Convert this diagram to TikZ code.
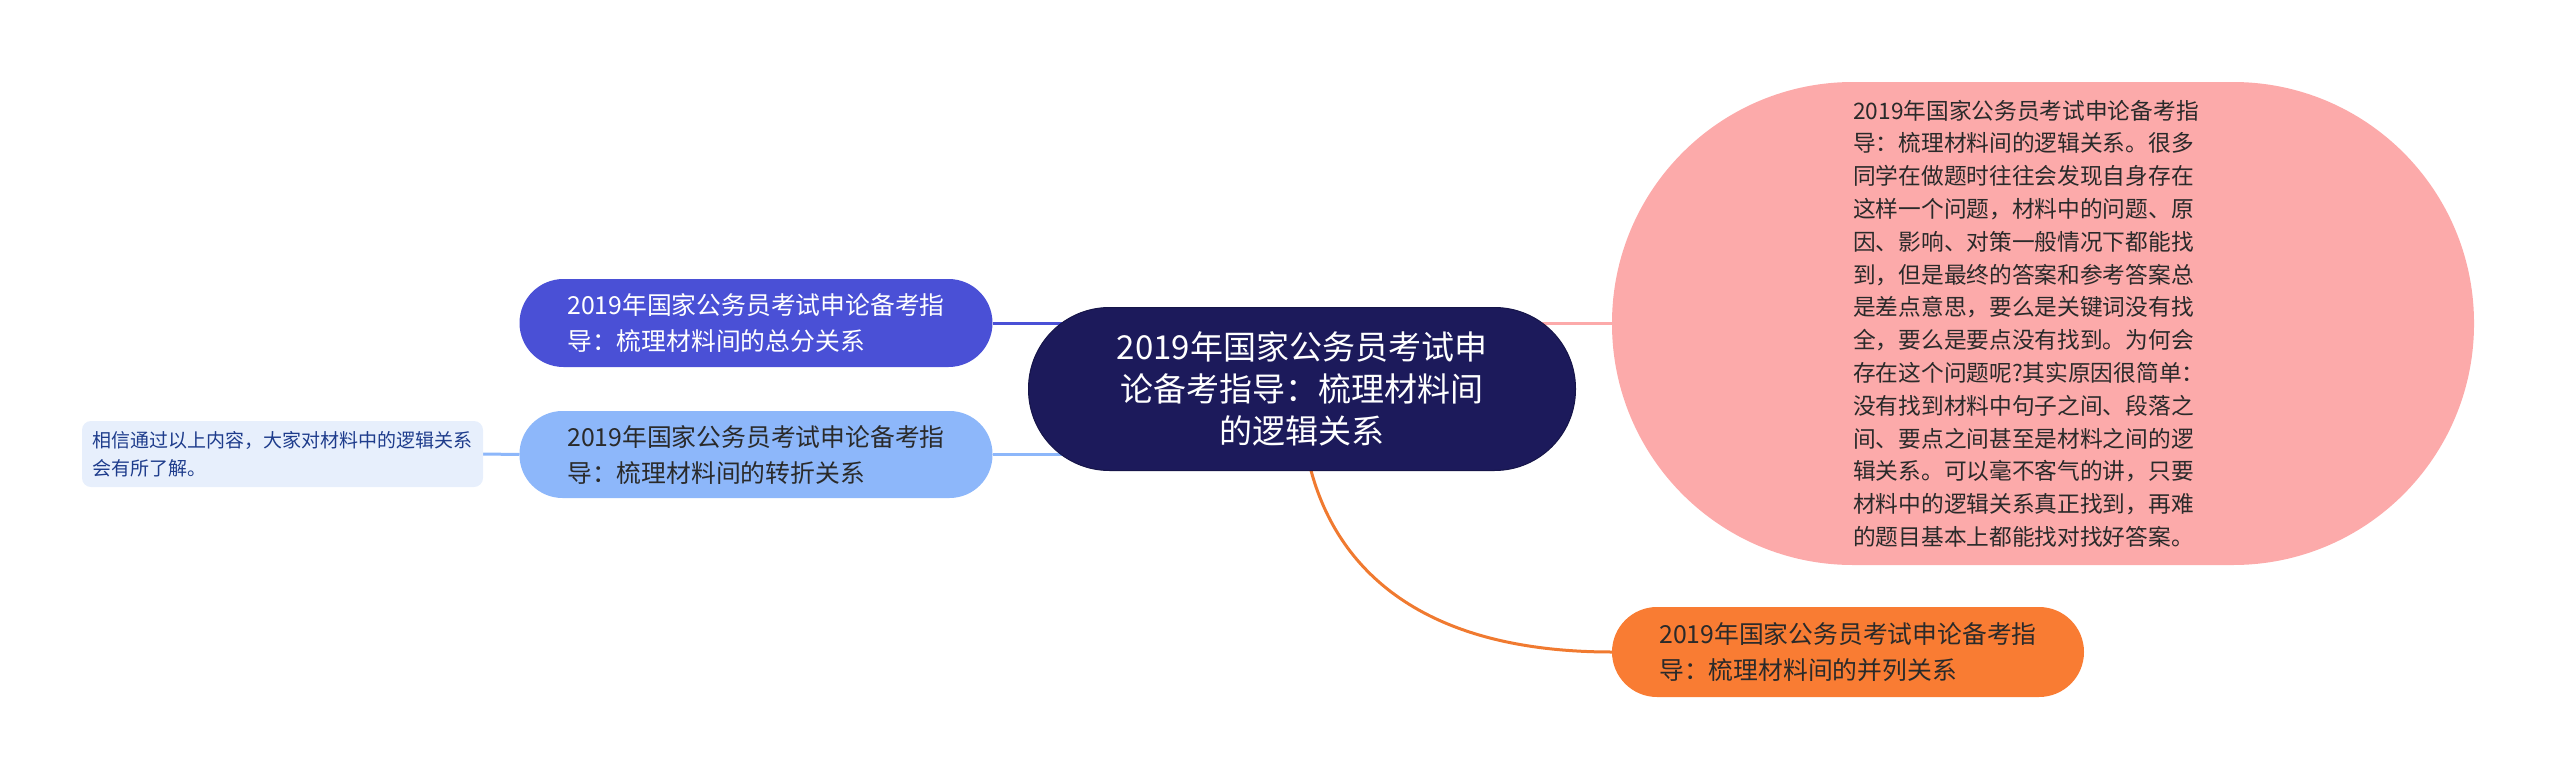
\documentclass[tikz,border=0pt]{standalone}
\usepackage{fontspec}
\setmainfont{Noto Sans CJK SC}
\usetikzlibrary{backgrounds}
\definecolor{cnavy}{HTML}{1C1A5B}
\definecolor{cblue}{HTML}{4A50D6}
\definecolor{clblue}{HTML}{8DB7FA}
\definecolor{cpale}{HTML}{E7EFFC}
\definecolor{cpaletext}{HTML}{1E3C8C}
\definecolor{cpink}{HTML}{FCAAAA}
\definecolor{corange}{HTML}{F97C33}
\definecolor{corline}{HTML}{F07A30}
\definecolor{cdark}{HTML}{2A2A2A}
\begin{document}
\begin{tikzpicture}[x=1pt,y=-1pt,
  pill/.style={rounded corners=#1, inner sep=0pt, outer sep=0pt},
  midfont/.style={font=\fontsize{24.8}{36}\selectfont},
  conn/.style={line width=3pt},
]
\useasboundingbox (0,0) rectangle (2560,779);
\node[pill=81pt, fill=cnavy, draw=cnavy!80!black, line width=1pt, minimum width=547pt, minimum height=163pt,
      text=white, align=center, font=\fontsize{33}{42}\selectfont] (center) at (1302,389)
  {2019年国家公务员考试申\\论备考指导：梳理材料间\\的逻辑关系};
\node[pill=44pt, fill=cblue, minimum width=473pt, minimum height=88pt, text=white, align=left, midfont] (A) at (756,323)
  {2019年国家公务员考试申论备考指\\导：梳理材料间的总分关系};
\node[pill=43pt, fill=clblue, minimum width=473pt, minimum height=87pt, text=cdark, align=left, midfont] (B) at (756,454.5)
  {2019年国家公务员考试申论备考指\\导：梳理材料间的转折关系};
\node[pill=9pt, fill=cpale, minimum width=401pt, minimum height=66pt, text=cpaletext, align=left,
      font=\fontsize{19}{28}\selectfont] (C) at (282.5,454)
  {相信通过以上内容，大家对材料中的逻辑关系\\会有所了解。};
\node[pill=241pt, fill=cpink, minimum width=862pt, minimum height=483pt] (pink) at (2043,323.5) {};
\node[inner sep=0pt, text=cdark, align=left, font=\fontsize{22.7}{32.8}\selectfont, anchor=west] (pinktext) at (1853,323.5)
  {2019年国家公务员考试申论备考指\\导：梳理材料间的逻辑关系。很多\\同学在做题时往往会发现自身存在\\这样一个问题，材料中的问题、原\\因、影响、对策一般情况下都能找\\到，但是最终的答案和参考答案总\\是差点意思，要么是关键词没有找\\全，要么是要点没有找到。为何会\\存在这个问题呢?其实原因很简单：\\没有找到材料中句子之间、段落之\\间、要点之间甚至是材料之间的逻\\辑关系。可以毫不客气的讲，只要\\材料中的逻辑关系真正找到，再难\\的题目基本上都能找对找好答案。};
\node[pill=45pt, fill=corange, minimum width=472pt, minimum height=90pt, text=cdark, align=left, midfont] (O) at (1848,652)
  {2019年国家公务员考试申论备考指\\导：梳理材料间的并列关系};
\begin{scope}[on background layer]
  \draw[conn, draw=cblue] (A.east) -- (A.east -| center.center);
  \draw[conn, draw=clblue] (B.east) -- (B.east -| center.center);
  \draw[conn, draw=clblue] (C.east) -- (B.west);
  \draw[conn, draw=cpink] (pink.west) -- (pink.west -| center.center);
  \draw[conn, draw=corline] ([xshift=9pt]center.south) .. controls +(24,89) and +(-202,0) .. (O.west);
\end{scope}
\end{tikzpicture}
\end{document}
